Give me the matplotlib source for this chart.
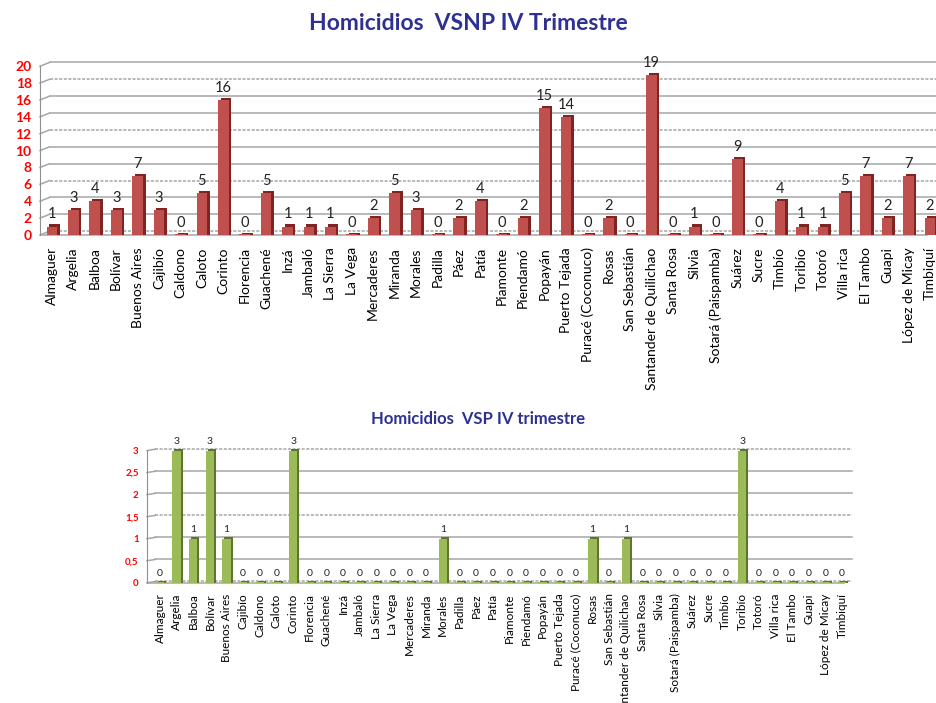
import matplotlib
matplotlib.use("Agg")
import matplotlib.pyplot as plt
import numpy as np

plt.rcParams['font.family'] = ['Lato', 'DejaVu Sans']

municipios = ["Almaguer", "Argelia", "Balboa", "Bolívar", "Buenos Aires", "Cajibío",
              "Caldono", "Caloto", "Corinto", "Florencia", "Guachené", "Inzá",
              "Jambaló", "La Sierra", "La Vega", "Mercaderes", "Miranda", "Morales",
              "Padilla", "Páez", "Patía", "Piamonte", "Piendamó", "Popayán",
              "Puerto Tejada", "Puracé (Coconuco)", "Rosas", "San Sebastián",
              "Santander de Quilichao", "Santa Rosa", "Silvia", "Sotará (Paispamba)",
              "Suárez", "Sucre", "Timbío", "Toribío", "Totoró", "Villa rica",
              "El Tambo", "Guapi", "López de Micay", "Timbiquí"]

vsnp = [1, 3, 4, 3, 7, 3, 0, 5, 16, 0, 5, 1, 1, 1, 0, 2, 5, 3, 0, 2, 4, 0, 2, 15,
        14, 0, 2, 0, 19, 0, 1, 0, 9, 0, 4, 1, 1, 5, 7, 2, 7, 2]

vsp = [0, 3, 1, 3, 1, 0, 0, 0, 3, 0, 0, 0, 0, 0, 0, 0, 0, 1, 0, 0, 0, 0, 0, 0,
       0, 0, 1, 0, 1, 0, 0, 0, 0, 0, 0, 3, 0, 0, 0, 0, 0, 0]

vsnp_ticks = list(range(0, 21, 2))
vsp_ticks = [0, 0.5, 1, 1.5, 2, 2.5, 3]
vsp_ticklabels = ["0", "0,5", "1", "1,5", "2", "2,5", "3"]

azul = "#2E3192"
rojo_tick = "#FF0000"


def bar3d(ax, valores, face, side, width, dx, dy, fs_val, pad):
    x = np.arange(len(valores))
    v = np.array(valores, dtype=float)
    # lateral oscuro (falso 3D)
    ax.bar(x + dx, v + dy, width=width, color=side, bottom=0, zorder=2)
    ax.bar(x, np.maximum(v, dy * 0.6), width=width, color=face, zorder=3)
    for xi, vi in zip(x, valores):
        ax.text(xi, vi + pad, str(vi), ha="center", va="bottom",
                fontsize=fs_val, color="#222222", zorder=5)
    return x


def estilo(ax, ticks, ticklabels, ymin, ymax, xmin, xmax, dx_g, dy_g, fs_tick, fs_lab, lpad):
    ax.set_xlim(xmin, xmax)
    ax.set_ylim(ymin, ymax)
    for s in ["top", "right", "bottom"]:
        ax.spines[s].set_visible(False)
    ax.spines["left"].set_color("#909090")
    ax.spines["left"].set_bounds(0, ticks[-1])
    # lineas de la pared del fondo
    for i, t in enumerate(ticks):
        ls = (0, (2, 1)) if i % 3 == 0 else "-"
        ax.plot([xmin + dx_g, xmax], [t + dy_g, t + dy_g], color="#A6A6A6",
                lw=1.1, ls=ls, zorder=1, clip_on=False)
        ax.plot([xmin, xmin + dx_g], [t, t + dy_g], color="#A6A6A6", lw=1.1,
                zorder=1, clip_on=False)
    ax.plot([xmin, xmax - dx_g], [0, 0], color="#A6A6A6", lw=1.1, zorder=1)
    ax.set_yticks(ticks)
    ax.set_yticklabels(ticklabels, color=rojo_tick, fontweight="bold", fontsize=fs_tick)
    ax.tick_params(axis="y", length=0, pad=6)
    ax.set_xticks(np.arange(len(municipios)))
    ax.set_xticklabels(municipios, rotation=90, fontsize=fs_lab)
    ax.tick_params(axis="x", length=0, pad=lpad)


fig = plt.figure(figsize=(9.37, 7.03), dpi=100)

# grafico superior: VSNP
ax1 = fig.add_axes([40 / 937, 1 - 237.5 / 703, 897 / 937, 173 / 703])
bar3d(ax1, vsnp, "#C0504D", "#7F2422", 0.5, 0.12, 0.25, 10.5, 0.6)
estilo(ax1, vsnp_ticks, [str(t) for t in vsnp_ticks], -0.3, 20.2, -0.56, 41.33,
       0.45, 0.45, 10, 10, 7)
fig.text(0.5, 1 - 24 / 703, "Homicidios  VSNP IV Trimestre", ha="center", va="center",
         fontsize=16.5, fontweight="bold", color=azul)

# grafico inferior: VSP
ax2 = fig.add_axes([147 / 937, 1 - 585 / 703, 705 / 937, 138 / 703])
bar3d(ax2, vsp, "#9BBB59", "#5E7530", 0.5, 0.12, 0.04, 7.5, 0.1)
estilo(ax2, vsp_ticks, vsp_ticklabels, -0.05, 3.08, -0.78, 41.6,
       0.5, 0.03, 7, 8.5, 6)
fig.text(0.51, 1 - 419 / 703, "Homicidios  VSP IV trimestre", ha="center", va="center",
         fontsize=12, fontweight="bold", color=azul)

fig.savefig("out.png", dpi=100)
